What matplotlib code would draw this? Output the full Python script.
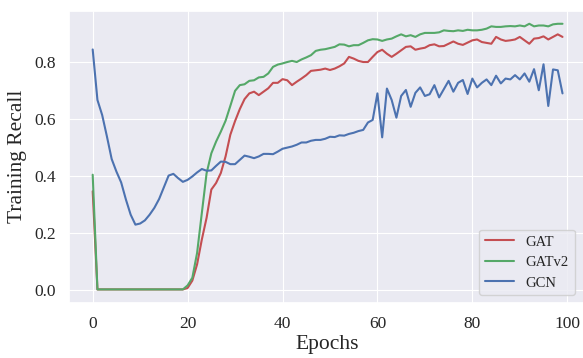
import matplotlib
matplotlib.use("Agg")
import matplotlib.pyplot as plt
import numpy as np
import seaborn as sns

# recall per epoch for each model (100 epochs)
gat_recall = [
    0.347, 0.003, 0.003, 0.003, 0.003, 0.003, 0.003, 0.003, 0.003, 0.003,
    0.003, 0.003, 0.003, 0.003, 0.003, 0.003, 0.003, 0.003, 0.003, 0.003,
    0.008, 0.034, 0.091, 0.178, 0.254, 0.353, 0.376, 0.411, 0.469, 0.545,
    0.593, 0.635, 0.670, 0.690, 0.696, 0.684, 0.696, 0.708, 0.727, 0.727,
    0.740, 0.736, 0.719, 0.731, 0.742, 0.754, 0.769, 0.771, 0.773, 0.777,
    0.772, 0.777, 0.785, 0.795, 0.818, 0.812, 0.804, 0.800, 0.800, 0.818,
    0.835, 0.843, 0.829, 0.818, 0.829, 0.841, 0.853, 0.855, 0.843, 0.847,
    0.850, 0.859, 0.862, 0.855, 0.856, 0.864, 0.872, 0.864, 0.860, 0.868,
    0.876, 0.879, 0.870, 0.867, 0.864, 0.888, 0.879, 0.874, 0.876, 0.879,
    0.888, 0.876, 0.864, 0.882, 0.884, 0.890, 0.879, 0.888, 0.897, 0.888,
]
gatv2_recall = [
    0.405, 0.003, 0.003, 0.003, 0.003, 0.003, 0.003, 0.003, 0.003, 0.003,
    0.003, 0.003, 0.003, 0.003, 0.003, 0.003, 0.003, 0.003, 0.003, 0.003,
    0.017, 0.044, 0.131, 0.271, 0.410, 0.480, 0.521, 0.556, 0.594, 0.646,
    0.699, 0.719, 0.722, 0.734, 0.736, 0.746, 0.748, 0.760, 0.783, 0.791,
    0.795, 0.800, 0.804, 0.800, 0.809, 0.816, 0.824, 0.839, 0.843, 0.845,
    0.849, 0.853, 0.862, 0.861, 0.855, 0.859, 0.859, 0.867, 0.876, 0.880,
    0.879, 0.874, 0.879, 0.882, 0.890, 0.897, 0.890, 0.894, 0.888, 0.897,
    0.902, 0.902, 0.902, 0.904, 0.911, 0.909, 0.908, 0.911, 0.909, 0.913,
    0.911, 0.911, 0.913, 0.917, 0.925, 0.923, 0.923, 0.925, 0.926, 0.925,
    0.928, 0.925, 0.934, 0.925, 0.928, 0.928, 0.925, 0.932, 0.934, 0.934,
]
gcn_recall = [
    0.844, 0.667, 0.614, 0.539, 0.460, 0.416, 0.378, 0.318, 0.265, 0.230,
    0.234, 0.245, 0.265, 0.289, 0.320, 0.361, 0.402, 0.408, 0.393, 0.380,
    0.387, 0.399, 0.413, 0.425, 0.419, 0.420, 0.436, 0.451, 0.450, 0.442,
    0.442, 0.457, 0.472, 0.468, 0.463, 0.469, 0.478, 0.478, 0.477, 0.486,
    0.496, 0.500, 0.504, 0.510, 0.518, 0.518, 0.524, 0.527, 0.527, 0.531,
    0.538, 0.537, 0.543, 0.542, 0.548, 0.552, 0.558, 0.562, 0.588, 0.597,
    0.690, 0.536, 0.707, 0.667, 0.605, 0.681, 0.702, 0.643, 0.692, 0.711,
    0.681, 0.687, 0.719, 0.676, 0.705, 0.734, 0.696, 0.727, 0.737, 0.688,
    0.742, 0.711, 0.727, 0.739, 0.719, 0.752, 0.725, 0.742, 0.739, 0.754,
    0.739, 0.760, 0.731, 0.775, 0.701, 0.792, 0.646, 0.774, 0.771, 0.690,
]

series = [
    ("GAT", gat_recall, "#C44E52"),
    ("GATv2", gatv2_recall, "#55A868"),
    ("GCN", gcn_recall, "#4C72B0"),
]

sns.set_theme(style="darkgrid", rc={"grid.linewidth": 0.8})
plt.rcParams["font.family"] = ["Liberation Serif", "DejaVu Serif"]

fig = plt.figure(figsize=(5.83, 3.58), dpi=100)
# right edge of the axes runs slightly past the figure border
ax = fig.add_axes([69.2 / 583, 1 - 302.7 / 358, (586 - 69.2) / 583, (302.7 - 10.5) / 358])

epochs = np.arange(len(gat_recall))
for label, values, color in series:
    ax.plot(epochs, values, color=color, linewidth=1.5, label=label)

ax.set_xticks([0, 20, 40, 60, 80, 100])
ax.set_yticks([0.0, 0.2, 0.4, 0.6, 0.8])
ax.tick_params(labelsize=12.5)
ax.set_xlabel("Epochs", fontsize=15.5, labelpad=2)
ax.set_ylabel("Training Recall", fontsize=15.5, labelpad=5)
ax.legend(loc="lower right", fontsize=10.5, bbox_to_anchor=(0.992, 0.0))

fig.savefig("out.png", dpi=100)
